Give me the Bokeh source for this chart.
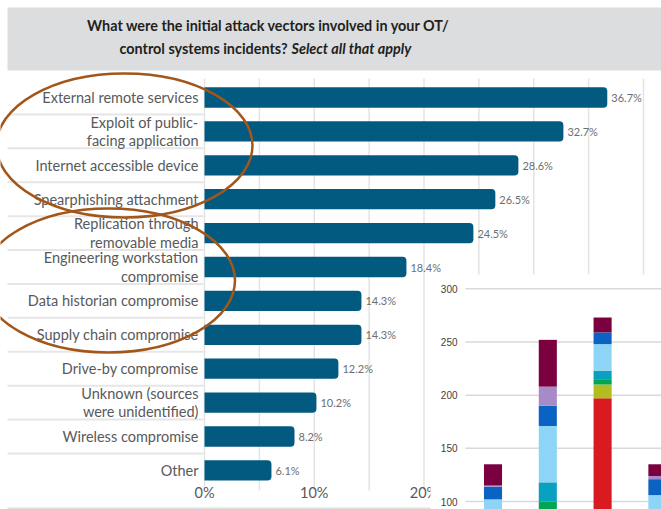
from bokeh.plotting import figure
from bokeh.models import Range1d, ColumnDataSource
from bokeh.core.properties import value
from bokeh.embed import file_html
from bokeh.resources import INLINE

# ---------------- data ----------------
categories = [
    "External remote services",
    "Exploit of public-\nfacing application",
    "Internet accessible device",
    "Spearphishing attachment",
    "Replication through\nremovable media",
    "Engineering workstation\ncompromise",
    "Data historian compromise",
    "Supply chain compromise",
    "Drive-by compromise",
    "Unknown (sources\nwere unidentified)",
    "Wireless compromise",
    "Other",
]
percentages = [36.7, 32.7, 28.6, 26.5, 24.5, 18.4, 14.3, 14.3, 12.2, 10.2, 8.2, 6.1]
grid_ticks = [0, 5, 10, 15, 20, 25, 30, 35, 40]
label_ticks = [0, 10, 20]
tick_labels = ["0%", "10%", "20%"]

title_line1 = "What were the initial attack vectors involved in your OT/"
title_line2a = "control systems incidents?"
title_line2b = "Select all that apply"

# inset stacked chart (partly visible)
inset_x = [0, 1, 2, 3]
inset_levels = [100, 150, 200, 250, 300]
inset_series = ["red", "olive", "green", "teal", "lightblue", "blue", "lavender", "maroon"]
red = [0, 0, 197, 0]
olive = [0, 0, 13, 0]
green = [0, 100, 5, 0]
teal = [0, 18, 8, 0]
lightblue = [102, 53, 25, 106]
blue = [12, 19, 11, 15]
lavender = [1, 18, 0, 3]
maroon = [20, 44, 14, 11]
inset_colors = ["#D91A21", "#B4BD1F", "#00A651", "#0AA0C0", "#8DD4F6", "#0A63C3", "#A78AC8", "#7A003F"]

# ---------------- layout ----------------
W, H = 661, 509
X0, PXPCT = 204.0, 10.975      # pixel of 0%, pixels per percent
Y0, ROW = 97.0, 33.9           # pixel of first row centre, row pitch
IX0, ICOL = 492.5, 54.8        # inset: first bar centre, bar pitch
IY100, IY300 = 501.0, 288.3    # inset: pixels of values 100 and 300
IPX = (IY100 - IY300) / 200.0

p = figure(
    width=W, height=H,
    x_range=Range1d(-X0 / PXPCT, (W - X0) / PXPCT),
    y_range=Range1d((H - Y0) / ROW, -Y0 / ROW),
    output_backend="svg", toolbar_location=None,
    x_axis_location=None, y_axis_location=None,
    min_border=0, outline_line_color=None,
)
p.grid.visible = False
p.grid.grid_line_color = None
p.extra_x_ranges = {
    "px": Range1d(0, W),
    "inset": Range1d(-IX0 / ICOL, (W - IX0) / ICOL),
}
p.extra_y_ranges = {
    "px": Range1d(H, 0),
    "inset": Range1d(100 - (H - IY100) / IPX, 100 + IY100 / IPX),
}
p.background_fill_color = "white"
p.border_fill_color = "white"

FONT = value("Lato")

# title band
p.quad(left=[7], right=[W], top=[7], bottom=[70], x_range_name="px", y_range_name="px",
       fill_color="#DCDDDE", line_color=None)
p.text(x=[268], y=[25], text=[title_line1], x_range_name="px", y_range_name="px",
       text_align="center", text_baseline="middle", text_font=FONT,
       text_font_style="bold", text_font_size="14.4px", text_color="#231F20")
p.text(x=[287], y=[48], text=[title_line2a], x_range_name="px", y_range_name="px",
       text_align="right", text_baseline="middle", text_font=FONT,
       text_font_style="bold", text_font_size="14.4px", text_color="#231F20")
p.text(x=[291], y=[48], text=[title_line2b], x_range_name="px", y_range_name="px",
       text_align="left", text_baseline="middle", text_font=FONT,
       text_font_style="bold italic", text_font_size="14.4px", text_color="#231F20")

# grid lines and separators
n = len(grid_ticks)
p.segment(x0=grid_ticks, x1=grid_ticks, y0=[78] * n, y1=[490] * n, y_range_name="px",
          line_color="#E4E4E4", line_width=1.5)
idx = list(range(len(categories)))
seps = [i + 0.5 for i in idx[:-1]]
p.segment(x0=[7] * len(seps), x1=[203] * len(seps), y0=seps, y1=seps, x_range_name="px",
          line_color="#E6E6E6", line_width=2)
p.segment(x0=[7], x1=[430], y0=[508], y1=[508], x_range_name="px", y_range_name="px",
          line_color="#E0E0E0", line_width=2)

# bars
p.hbar(y=idx, left=0, right=percentages, height=0.6, fill_color="#035A80",
       line_color=None, border_radius=(0, 4, 4, 0))

# value labels
p.text(x=percentages, y=idx, text=[f"{v}%" for v in percentages], x_offset=4,
       text_baseline="middle", text_align="left", text_font=FONT,
       text_font_size="11px", text_color="#6D6E71")

# category labels
p.text(x=[198] * len(categories), y=idx, text=categories, x_range_name="px",
       text_align="right", text_baseline="middle", text_font=FONT,
       text_font_size="14.5px", text_color="#58595B", text_line_height=1.08)

# x tick labels
p.text(x=label_ticks, y=[492] * len(label_ticks), text=tick_labels, y_range_name="px",
       text_align="center", text_baseline="middle", text_font=FONT,
       text_font_size="14.5px", text_color="#58595B")

# hand-drawn ellipses
p.ellipse(x=[124, 108], y=[145, 280], width=[256, 253], height=[144, 144],
          x_range_name="px", y_range_name="px", fill_color=None,
          line_color="#A3561A", line_width=2.5)

# inset panel
p.quad(left=[430], right=[W], top=[274], bottom=[H], x_range_name="px", y_range_name="px",
       fill_color="white", line_color=None)
m = len(inset_levels)
p.segment(x0=[465] * m, x1=[W] * m, y0=inset_levels, y1=inset_levels,
          x_range_name="px", y_range_name="inset", line_color="#D9D9D9", line_width=1.5)
p.text(x=[457] * m, y=inset_levels, text=[str(v) for v in inset_levels],
       x_range_name="px", y_range_name="inset", text_align="right", text_baseline="middle",
       text_font=value("Liberation Sans"), text_font_size="10px", text_color="#404040")

src = ColumnDataSource(dict(x=inset_x, red=red, olive=olive, green=green, teal=teal,
                            lightblue=lightblue, blue=blue, lavender=lavender, maroon=maroon))
p.vbar_stack(inset_series, x="x", width=0.33, color=inset_colors, source=src,
             x_range_name="inset", y_range_name="inset", line_color=None)

open("out.html", "w").write(file_html(p, INLINE))
